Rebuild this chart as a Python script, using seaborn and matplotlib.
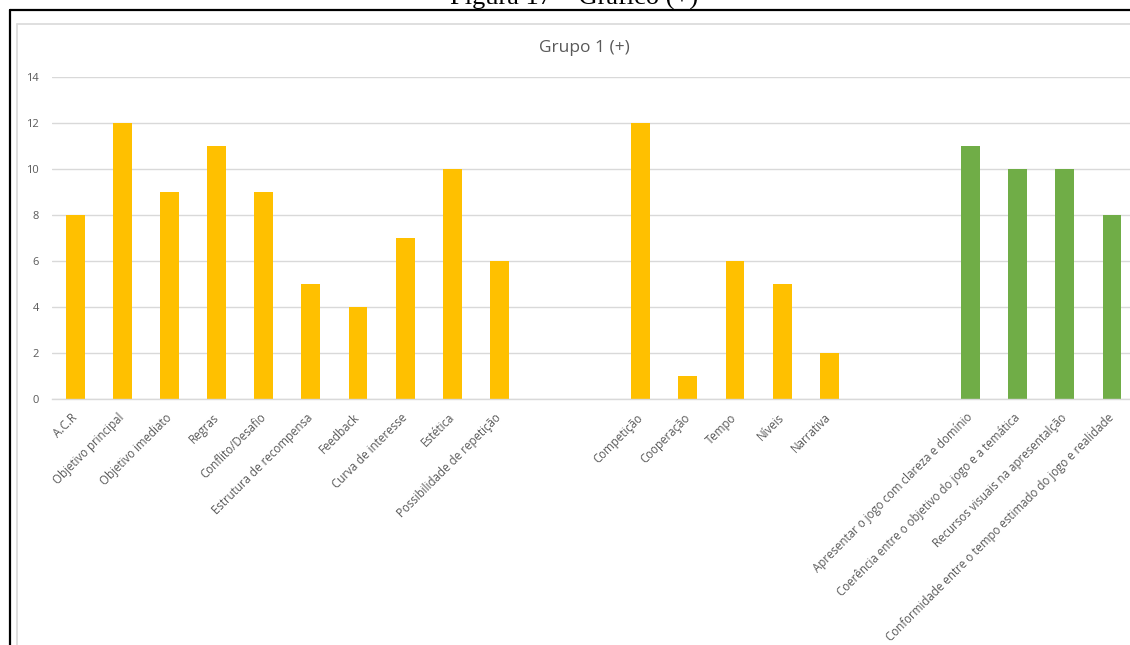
import matplotlib
matplotlib.use("Agg")
import matplotlib.pyplot as plt
from matplotlib.lines import Line2D
import seaborn as sns
import pandas as pd

# Game-design elements, assessed for Grupo 1 (+)
elementos = [
    "A.C.R", "Objetivo principal", "Objetivo imediato", "Regras",
    "Conflito/Desafio", "Estrutura de recompensa", "Feedback",
    "Curva de interesse", "Estética", "Possibilidade de repetição",
]
valores_elementos = [8, 12, 9, 11, 9, 5, 4, 7, 10, 6]

opcionais = ["Competição", "Cooperação", "Tempo", "Níveis", "Narrativa"]
valores_opcionais = [12, 1, 6, 5, 2]

apresentacao = [
    "Apresentar o jogo com clareza e domínio",
    "Coerência entre o objetivo do jogo e a temática",
    "Recursos visuais na apresentalção",
    "Conformidade entre o tempo estimado do jogo e realidade",
]
valores_apresentacao = [11, 10, 10, 8]

yticks = [0, 2, 4, 6, 8, 10, 12, 14]

AMARELO = "#FFC000"
VERDE = "#70AD47"
CINZA_TEXTO = "#595959"
CINZA_GRADE = "#D9D9D9"

# Two empty slots separate each block of categories
vazios_1 = ["\u200b1", "\u200b2"]
vazios_2 = ["\u200b3", "\u200b4"]
ordem = elementos + vazios_1 + opcionais + vazios_2 + apresentacao
rotulos = [c if not c.startswith("\u200b") else "" for c in ordem]

df = pd.DataFrame({
    "categoria": elementos + opcionais + apresentacao,
    "valor": valores_elementos + valores_opcionais + valores_apresentacao,
    "bloco": ["jogo"] * (len(elementos) + len(opcionais)) + ["apresentacao"] * len(apresentacao),
})

sns.set_theme(style="white")
plt.rcParams["font.family"] = ["Open Sans", "DejaVu Sans"]

fig = plt.figure(figsize=(11.30, 6.45), dpi=100)
ax = fig.add_axes([51.7 / 1130, 1 - 399 / 645, 1083.8 / 1130, 321.7 / 645])

sns.barplot(
    data=df, x="categoria", y="valor", hue="bloco", order=ordem,
    palette={"jogo": AMARELO, "apresentacao": VERDE},
    dodge=False, width=0.4, legend=False, ax=ax, linewidth=0, saturation=1,
)

ax.set_ylim(0, 14)
ax.set_xlim(-0.5, len(ordem) - 0.5)
ax.set_yticks(yticks)
ax.set_yticklabels([str(v) for v in yticks], fontsize=8, color=CINZA_TEXTO)
ax.set_xticks(range(len(ordem)))
ax.set_xticklabels(rotulos, fontsize=8.3, color=CINZA_TEXTO,
                   rotation=45, ha="right", va="center", rotation_mode="anchor")
ax.tick_params(axis="y", length=0, pad=9)
ax.tick_params(axis="x", length=0, pad=12)
ax.set_xlabel("")
ax.set_ylabel("")

ax.yaxis.grid(True, color=CINZA_GRADE, linewidth=1)
ax.set_axisbelow(True)
for lado in ("top", "right", "left"):
    ax.spines[lado].set_visible(False)
ax.spines["bottom"].set_color(CINZA_GRADE)
ax.spines["bottom"].set_linewidth(1)

# Chart title
fig.text(584 / 1130, 1 - 48 / 645, "Grupo 1 (+)", ha="center", va="center",
         fontsize=12.5, color=CINZA_TEXTO)

# Light chart-area frame
fig.add_artist(Line2D([17 / 1130, 17 / 1130], [-0.05, 1 - 24 / 645],
                      transform=fig.transFigure, color=CINZA_GRADE, linewidth=1.2))
fig.add_artist(Line2D([17 / 1130, 1.05], [1 - 24 / 645, 1 - 24 / 645],
                      transform=fig.transFigure, color=CINZA_GRADE, linewidth=1.2))

# Outer black border of the figure box
fig.add_artist(Line2D([10 / 1130, 10 / 1130], [-0.05, 1 - 10 / 645],
                      transform=fig.transFigure, color="black", linewidth=1.6))
fig.add_artist(Line2D([10 / 1130, 1.05], [1 - 10 / 645, 1 - 10 / 645],
                      transform=fig.transFigure, color="black", linewidth=1.6))

# Document caption above the box
fig.text(574 / 1130, 1 - 5 / 645, "Figura 17 – Gráfico (+)", ha="center",
         va="baseline", fontsize=19, color="black", family=["Liberation Serif"])

fig.savefig("out.png", dpi=100)
